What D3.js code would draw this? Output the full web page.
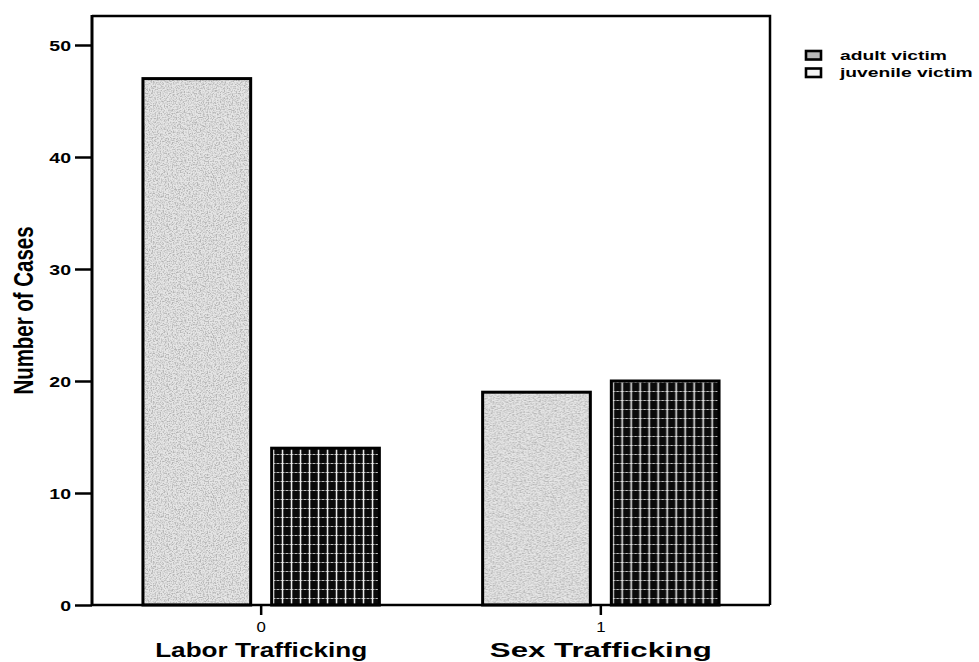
<!DOCTYPE html>
<html>
<head>
<meta charset="utf-8">
<script src="https://cdn.jsdelivr.net/npm/d3@7"></script>
<style>
	body { margin: 0; background: #fff; }
	svg text { font-family: "Liberation Sans", Arial, Helvetica, sans-serif; fill: #000; }
</style>
</head>
<body>
<div id="chart"></div>
<script>
// data
var categories = ["Labor Trafficking", "Sex Trafficking"];
var categoryCodes = ["0", "1"];
var seriesNames = ["adult victim", "juvenile victim"];
var adultValues = [47, 19];
var juvenileValues = [14, 20];
var yTicks = [0, 10, 20, 30, 40, 50];

var width = 979,
	height = 662,
	plot = { left: 92, right: 770, top: 16, bottom: 605 };

var rows = categories.map(function(c, i) {
	return {
		cat: c,
		code: categoryCodes[i],
		values: [
			{ series: seriesNames[0], value: adultValues[i] },
			{ series: seriesNames[1], value: juvenileValues[i] }
		]
	};
});

var svg = d3.select("#chart")
	.append("svg")
	.attr("width", width)
	.attr("height", height);

// text in the scan looks widened, so squeeze / stretch it to fit
function stretch(sel, sx) {
	sel.each(function(d, i) {
		var f = typeof sx === "function" ? sx(d, i) : sx;
		d3.select(this)
			.attr("textLength", this.getComputedTextLength() * f)
			.attr("lengthAdjust", "spacingAndGlyphs");
	});
}

var defs = svg.append("defs");

// grainy speckle like the scanned grey fill
var noise = defs.append("filter")
	.attr("id", "noise")
	.attr("x", 0).attr("y", 0)
	.attr("width", "100%").attr("height", "100%");
noise.append("feTurbulence")
	.attr("type", "fractalNoise")
	.attr("baseFrequency", 0.75)
	.attr("numOctaves", 2)
	.attr("seed", 4)
	.attr("result", "t");
noise.append("feColorMatrix")
	.attr("in", "t")
	.attr("type", "matrix")
	.attr("values", "0 0 0 0 0.45  0 0 0 0 0.45  0 0 0 0 0.45  3.2 0 0 0 -1.35");

var stip = defs.append("pattern")
	.attr("id", "stipple")
	.attr("patternUnits", "userSpaceOnUse")
	.attr("width", 160)
	.attr("height", 160);
stip.append("rect").attr("width", 160).attr("height", 160).attr("fill", "#e6e6e6");
stip.append("rect").attr("width", 160).attr("height", 160).attr("filter", "url(#noise)");

// black grid for juvenile bars
var grid = defs.append("pattern")
	.attr("id", "grid")
	.attr("patternUnits", "userSpaceOnUse")
	.attr("width", 9)
	.attr("height", 9);
grid.append("rect").attr("width", 9).attr("height", 9).attr("fill", "#0a0a0a");
grid.append("line")
	.attr("x1", 0).attr("x2", 9).attr("y1", 4.5).attr("y2", 4.5)
	.style("stroke", "#bdbdbd")
	.style("stroke-width", 1)
	.style("stroke-dasharray", "1.5,1");
grid.append("rect").attr("x", 3.8).attr("y", 0).attr("width", 1.5).attr("height", 9).attr("fill", "#f2f2f2");

var fills = { "adult victim": "url(#stipple)", "juvenile victim": "url(#grid)" };

// scales
var x0 = d3.scaleBand()
	.domain(categories)
	.range([plot.left, plot.right])
	.paddingInner(0.304)
	.paddingOuter(0.15);

var x1 = d3.scaleBand()
	.domain(seriesNames)
	.range([0, x0.bandwidth()])
	.paddingInner(0.163);

var y = d3.scaleLinear()
	.domain([0, 50])
	.range([plot.bottom, 45]);

// bars
var groups = svg.selectAll(".group")
	.data(rows)
	.enter().append("g")
	.attr("class", "group")
	.attr("transform", function(d) { return "translate(" + x0(d.cat) + ",0)"; });

groups.selectAll("rect")
	.data(function(d) { return d.values; })
	.enter().append("rect")
	.attr("x", function(d) { return x1(d.series); })
	.attr("y", function(d) { return y(d.value); })
	.attr("width", x1.bandwidth())
	.attr("height", function(d) { return y(0) - y(d.value); })
	.attr("fill", function(d) { return fills[d.series]; })
	.style("stroke", "#000")
	.style("stroke-width", 3);

// frame
svg.append("path")
	.attr("d", "M" + plot.left + "," + plot.top + "H" + plot.right + "V" + plot.bottom)
	.attr("fill", "none")
	.style("stroke", "#000")
	.style("stroke-width", 2.5);

// y axis
var yAxis = svg.append("g")
	.attr("transform", "translate(" + plot.left + ",0)")
	.call(d3.axisLeft(y).tickValues(yTicks).tickSize(17).tickPadding(4).tickFormat(d3.format("d")));
yAxis.select(".domain").remove();
yAxis.selectAll(".tick line").style("stroke", "#000").style("stroke-width", 2.5);
yAxis.selectAll(".tick text")
	.attr("font-size", 15)
	.attr("font-weight", "bold")
	.attr("dy", "0.36em")
	.call(stretch, 1.3);

svg.append("line")
	.attr("x1", plot.left).attr("x2", plot.left)
	.attr("y1", plot.top - 1).attr("y2", plot.bottom + 1)
	.style("stroke", "#000")
	.style("stroke-width", 3);

// x axis
var xAxis = svg.append("g")
	.attr("transform", "translate(0," + plot.bottom + ")")
	.call(d3.axisBottom(x0).tickSize(10).tickPadding(7).tickFormat(function(d, i) { return categoryCodes[i]; }));
xAxis.select(".domain").remove();
xAxis.selectAll(".tick line").style("stroke", "#000").style("stroke-width", 2.5);
xAxis.selectAll(".tick text")
	.attr("font-size", 14)
	.call(stretch, 1.2);

svg.append("line")
	.attr("x1", plot.left).attr("x2", plot.right)
	.attr("y1", plot.bottom).attr("y2", plot.bottom)
	.style("stroke", "#000")
	.style("stroke-width", 2.5);

// category names under the codes
svg.selectAll(".catLabel")
	.data(rows)
	.enter().append("text")
	.attr("class", "catLabel")
	.attr("x", function(d) { return x0(d.cat) + x0.bandwidth() / 2; })
	.attr("y", 657)
	.attr("text-anchor", "middle")
	.attr("font-size", 19.5)
	.attr("font-weight", "bold")
	.text(function(d) { return d.cat; })
	.call(stretch, function(d, i) { return i === 0 ? 1.34 : 1.6; });

// y axis title
svg.append("text")
	.attr("transform", "translate(33," + (plot.top + plot.bottom) / 2 + ") rotate(-90)")
	.attr("text-anchor", "middle")
	.attr("font-size", 28)
	.attr("font-weight", "bold")
	.text("Number of Cases")
	.call(stretch, 0.73);

// legend
var legend = svg.append("g")
	.attr("transform", "translate(806,51)");

var item = legend.selectAll(".item")
	.data(seriesNames)
	.enter().append("g")
	.attr("class", "item")
	.attr("transform", function(d, i) { return "translate(0," + i * 17.5 + ")"; });

item.append("rect")
	.attr("width", 15)
	.attr("height", 8.5)
	.attr("fill", function(d, i) { return i === 0 ? "#b8b8b8" : "#f4f4f4"; })
	.style("stroke", "#000")
	.style("stroke-width", 2.6);

item.append("text")
	.attr("x", 34)
	.attr("y", 8.5)
	.attr("font-size", 13)
	.attr("font-weight", "bold")
	.text(function(d) { return d; })
	.call(stretch, 1.48);
</script>
</body>
</html>
